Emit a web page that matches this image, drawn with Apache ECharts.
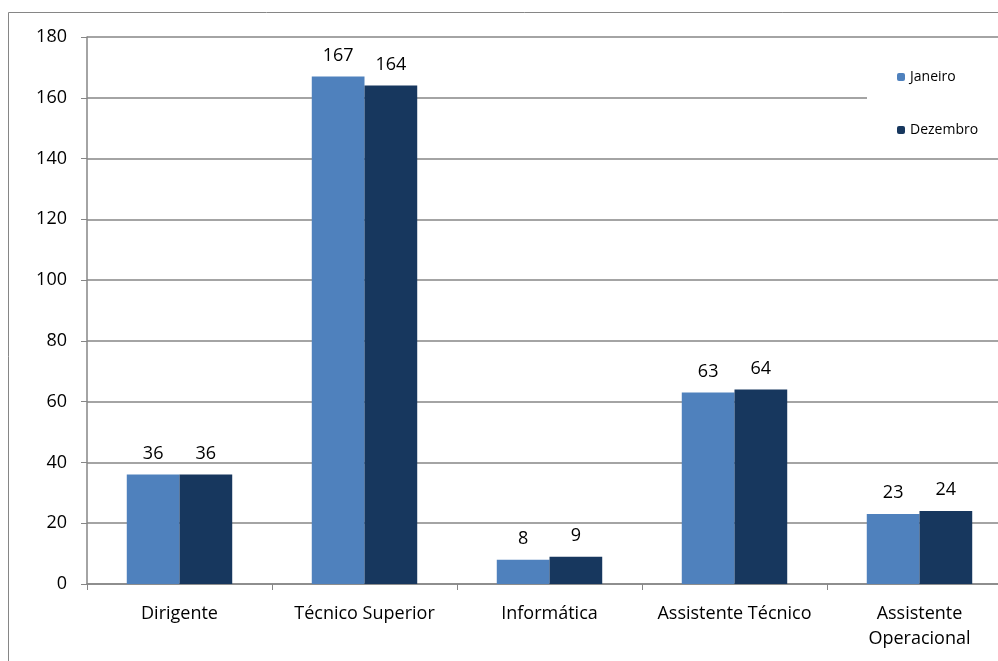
<!DOCTYPE html>
<html>
<head>
<meta charset="utf-8">
<script src="https://cdn.jsdelivr.net/npm/echarts@6/dist/echarts.min.js"></script>
<style>
  html, body { margin: 0; padding: 0; background: #fff; overflow: hidden; }
  #main { width: 1040px; height: 700px; }
</style>
</head>
<body>
<div id="main"></div>
<script>
// data
var categories = ['Dirigente', 'Técnico Superior', 'Informática', 'Assistente Técnico', 'Assistente\nOperacional'];
var janeiro = [36, 167, 8, 63, 23];
var dezembro = [36, 164, 9, 64, 24];
var seriesNames = ['Janeiro', 'Dezembro'];

var chart = echarts.init(document.getElementById('main'));
var fontFamily = '"Open Sans", "Liberation Sans", sans-serif';
var axisGray = '#868686';

chart.setOption({
  animation: false,
  textStyle: { fontFamily: fontFamily },
  graphic: [{
    // outer chart border
    type: 'rect',
    shape: { x: 8.5, y: 12.5, width: 1100, height: 800 },
    style: { fill: 'none', stroke: axisGray, lineWidth: 1 },
    z: -1
  }],
  legend: {
    data: seriesNames,
    orient: 'vertical',
    left: 867,
    top: 60,
    padding: [10, 60, 10, 30],
    itemGap: 39,
    itemWidth: 8,
    itemHeight: 8,
    backgroundColor: '#fff',
    textStyle: { fontSize: 14, color: '#000', fontFamily: fontFamily },
    z: 10
  },
  grid: { left: 87, top: 37, right: 28, bottom: 116, containLabel: false },
  xAxis: {
    type: 'category',
    data: categories,
    axisLine: { lineStyle: { color: axisGray, width: 1.5 } },
    axisTick: { show: true, length: 6, lineStyle: { color: axisGray } },
    axisLabel: { color: '#000', fontSize: 18, margin: 17, lineHeight: 25, interval: 0 }
  },
  yAxis: {
    type: 'value',
    min: 0,
    max: 180,
    interval: 20,
    axisLine: { show: true, lineStyle: { color: axisGray, width: 1.5 } },
    axisTick: { show: true, length: 6, lineStyle: { color: axisGray } },
    axisLabel: { color: '#000', fontSize: 18, margin: 20 },
    splitLine: { lineStyle: { color: axisGray, width: 1.5 } }
  },
  series: [{
    name: seriesNames[0],
    type: 'bar',
    data: janeiro,
    barGap: '0%',
    barCategoryGap: '43%',
    itemStyle: { color: '#4F81BD' },
    label: { show: true, position: 'top', distance: 12, fontSize: 18, color: '#000' }
  }, {
    name: seriesNames[1],
    type: 'bar',
    data: dezembro,
    itemStyle: { color: '#17375E' },
    label: { show: true, position: 'top', distance: 12, fontSize: 18, color: '#000' }
  }]
});
</script>
</body>
</html>
